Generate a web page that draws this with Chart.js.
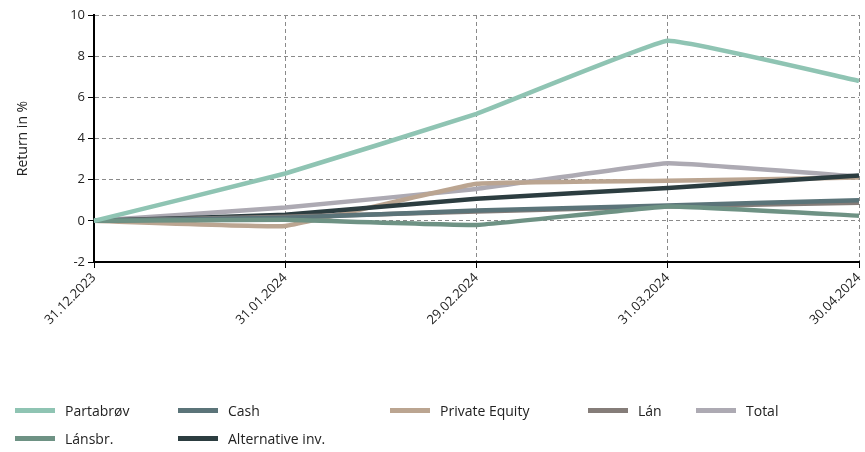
<!DOCTYPE html>
<html>
<head>
<meta charset="utf-8">
<script src="https://cdn.jsdelivr.net/npm/chart.js@4/dist/chart.umd.min.js"></script>
<style>
  html, body { margin: 0; padding: 0; background: #fff; }
  #wrap { position: relative; width: 865px; height: 452px; }
  #legend { position: absolute; left: 0; top: 396px; width: 865px; height: 56px;
            font-family: "Open Sans", "Noto Sans", sans-serif; font-size: 14px; color: #222; }
  .item { position: absolute; display: flex; align-items: center; height: 20px; }
  .swatch { width: 40px; height: 5px; margin-right: 10px; }
</style>
</head>
<body>
<div id="wrap">
  <canvas id="graph-1" width="865" height="452"></canvas>
  <div id="legend"></div>
</div>
<script>
const labels = ['31.12.2023', '31.01.2024', '29.02.2024', '31.03.2024', '30.04.2024'];

const partabrov   = [0, 2.3, 5.2, 8.75, 6.8];
const cash        = [0, 0.15, 0.5, 0.75, 1.0];
const privateEq   = [0, -0.25, 1.8, 1.95, 2.1];
const lan         = [0, 0.2, 0.45, 0.7, 0.88];
const total       = [0, 0.65, 1.55, 2.8, 2.15];
const lansbr      = [0, 0.05, -0.2, 0.7, 0.25];
const alternative = [0, 0.3, 1.07, 1.6, 2.2];

const yTicks = [-2, 0, 2, 4, 6, 8, 10];

// legend slots: [left, top] per item, in legend order
const slots = [[15, 4], [178, 4], [390, 4], [588, 4], [696, 4], [15, 32], [178, 32]];

const series = [
  { label: 'Partabrøv', data: partabrov, color: '#8fc4b3' },
  { label: 'Cash', data: cash, color: '#5b7479' },
  { label: 'Private Equity', data: privateEq, color: '#bba591' },
  { label: 'Lán', data: lan, color: '#857d79' },
  { label: 'Total', data: total, color: '#adaab3' },
  { label: 'Lánsbr.', data: lansbr, color: '#6e9284' },
  { label: 'Alternative inv.', data: alternative, color: '#2c3d40' }
];

// draw order: Partabrøv on top
const drawOrder = { 'Total': 6, 'Private Equity': 5, 'Alternative inv.': 4, 'Lán': 3, 'Cash': 2, 'Lánsbr.': 1, 'Partabrøv': 0 };

const data = {
  labels: labels,
  datasets: series.map(s => ({
    label: s.label,
    data: s.data,
    borderColor: s.color,
    backgroundColor: s.color,
    borderWidth: 4.5,
    pointRadius: 0,
    tension: 0.08,
    order: drawOrder[s.label]
  }))
};

const font = { family: '"Open Sans", "Noto Sans", sans-serif', size: 13 };

const gridOpts = { color: '#8a8a8a', tickColor: '#000', tickLength: 6, tickBorderDash: [] };
const borderOpts = { color: '#000', width: 2, dash: [4, 3] };

const config = {
  type: 'line',
  data: data,
  options: {
    responsive: false,
    animation: false,
    layout: { padding: { top: 15, right: 6, left: 11, bottom: 0 } },
    plugins: {
      legend: { display: false },
      tooltip: { enabled: false }
    },
    scales: {
      x: {
        offset: false,
        grid: gridOpts,
        border: borderOpts,
        ticks: { color: '#222', font: font, minRotation: 45, maxRotation: 45, padding: 2 },
        afterFit: scale => { scale.height = 190; scale.paddingRight = 0; scale.paddingLeft = 0; }
      },
      y: {
        min: -2,
        max: 10,
        afterBuildTicks: scale => { scale.ticks = yTicks.map(v => ({ value: v })); },
        grid: gridOpts,
        border: borderOpts,
        ticks: { color: '#222', font: font, padding: 3 },
        title: { display: true, text: 'Return in %', color: '#222', font: { family: font.family, size: 14 } },
        afterFit: scale => { scale.width = 83; }
      }
    }
  }
};

const chart = new Chart(document.querySelector('#graph-1'), config);

const legend = document.getElementById('legend');
chart.data.datasets.forEach((ds, i) => {
  const item = document.createElement('div');
  item.className = 'item';
  item.style.left = slots[i][0] + 'px';
  item.style.top = slots[i][1] + 'px';
  const sw = document.createElement('span');
  sw.className = 'swatch';
  sw.style.background = ds.borderColor;
  const txt = document.createElement('span');
  txt.textContent = ds.label;
  item.appendChild(sw);
  item.appendChild(txt);
  legend.appendChild(item);
});
</script>
</body>
</html>
